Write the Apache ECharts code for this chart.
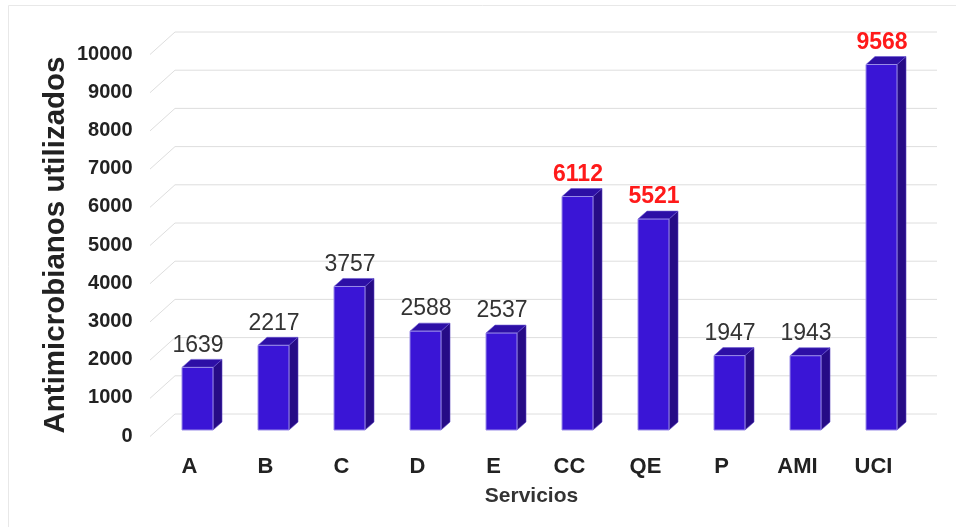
<!DOCTYPE html>
<html>
<head>
<meta charset="utf-8">
<script src="https://cdn.jsdelivr.net/npm/echarts@6/dist/echarts.min.js"></script>
<style>
html,body{margin:0;padding:0;background:#fff;}
#chart{width:956px;height:527px;}
</style>
</head>
<body>
<div id="chart"></div>
<script>
var categories = ['A', 'B', 'C', 'D', 'E', 'CC', 'QE', 'P', 'AMI', 'UCI'];
var values = [1639, 2217, 3757, 2588, 2537, 6112, 5521, 1947, 1943, 9568];
var highlighted = [false, false, false, false, false, true, true, false, false, true];
var yTicks = [0, 1000, 2000, 3000, 4000, 5000, 6000, 7000, 8000, 9000, 10000];
var yTickLabels = ['0', '1000', '2000', '3000', '4000', '5000', '6000', '7000', '8000', '9000', '10000'];

var FONT = '"Liberation Sans", Arial, sans-serif';
var chart = echarts.init(document.getElementById('chart'), null, {renderer: 'canvas'});

var barData = values.map(function (v, i) { return [i, v, highlighted[i] ? 1 : 0]; });
var tickData = yTicks.map(function (v, i) { return [0, v, i]; });

var option = {
  backgroundColor: '#ffffff',
  animation: false,
  grid: {left: 151.5, right: 44.5, top: 48, bottom: 97},
  graphic: [
    {type: 'polyline', shape: {points: [[8.5, 527], [8.5, 5.5], [956, 5.5]]}, style: {fill: null, stroke: '#e8e8e8', lineWidth: 1}, silent: true, z: -10},
    {type: 'text', x: 56, y: 245, rotation: Math.PI / 2,
     style: {text: 'Antimicrobianos utilizados', font: 'bold 29.5px ' + FONT, fill: '#222', align: 'center', verticalAlign: 'middle'}}
  ],
  xAxis: {
    type: 'category',
    data: categories,
    axisLine: {show: false},
    axisTick: {show: false},
    axisLabel: {margin: 26, fontFamily: FONT, fontWeight: 'bold', fontSize: 22, color: '#222'},
    name: 'Servicios',
    nameLocation: 'middle',
    nameGap: 56,
    nameTextStyle: {fontFamily: FONT, fontWeight: 'bold', fontSize: 21, color: '#333'}
  },
  yAxis: {
    type: 'value',
    min: 0, max: 10000, interval: 1000,
    axisLine: {show: false},
    axisTick: {show: false},
    axisLabel: {show: false},
    splitLine: {show: false}
  },
  series: [
    {
      type: 'custom',
      z: 1,
      silent: true,
      data: tickData,
      renderItem: function (params, api) {
        var cs = params.coordSys;
        var y = api.coord([0, api.value(1)])[1];
        var idx = api.value(2);
        var fx = cs.x - 1.5, fy = y + 6.5;
        var bx = cs.x + 23.5, by = y - 16;
        var ex = cs.x + cs.width + 25.5;
        return {
          type: 'group',
          children: [
            {type: 'polyline', shape: {points: [[fx, fy], [bx, by], [ex, by]]},
             style: {stroke: '#dedede', lineWidth: 1, fill: null}},
            {type: 'text', style: {text: yTickLabels[idx], x: cs.x - 19, y: y + 6,
              align: 'right', verticalAlign: 'middle', font: 'bold 20px ' + FONT, fill: '#222'}}
          ]
        };
      }
    },
    {
      type: 'custom',
      z: 2,
      data: barData,
      renderItem: function (params, api) {
        var i = api.value(0), v = api.value(1), hl = api.value(2);
        var p0 = api.coord([i, 0]);
        var p1 = api.coord([i, v]);
        var xc = p0[0];
        var left = xc - 7.5, right = xc + 23.5;
        var top = p1[1], bottom = p0[1];
        var dx = 9, dy = -8;
        return {
          type: 'group',
          children: [
            {type: 'polygon', shape: {points: [[right, top], [right + dx, top + dy], [right + dx, bottom + dy], [right, bottom]]},
             style: {fill: '#260b86', stroke: '#5a45c0', lineWidth: 0.6}},
            {type: 'polygon', shape: {points: [[left, top], [left + dx, top + dy], [right + dx, top + dy], [right, top]]},
             style: {fill: '#2d0fa6', stroke: '#6a58d0', lineWidth: 0.6}},
            {type: 'rect', shape: {x: left, y: top, width: right - left, height: bottom - top},
             style: {fill: '#3a15d6', stroke: '#9a8ce8', lineWidth: 1}},
            {type: 'text', style: {text: String(v), x: xc + 8.5, y: top - 22, align: 'center', verticalAlign: 'middle',
              font: (hl ? 'bold ' : '') + '23px ' + FONT, fill: hl ? '#ff1a1a' : '#333333'}}
          ]
        };
      }
    }
  ]
};
chart.setOption(option);
</script>
</body>
</html>
